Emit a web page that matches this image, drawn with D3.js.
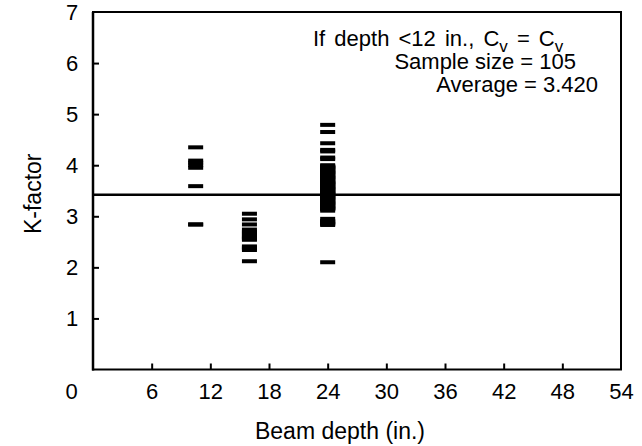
<!DOCTYPE html>
<html>
<head>
<meta charset="utf-8">
<script src="https://cdn.jsdelivr.net/npm/d3@7"></script>
<style>
  html, body { margin: 0; padding: 0; background: #fff; }
  svg { display: block; }
</style>
</head>
<body>
<div id="chart"></div>
<script>
// K-factor vs beam depth — each test shown as a short dash marker

const depthGroups = [10.5, 16, 24];

const kDepth10 = [4.35, 4.09, 4.05, 4.00, 3.95, 3.59, 2.84, 2.84];
const kDepth16 = [3.05, 2.94, 2.84, 2.74, 2.70, 2.68, 2.66, 2.62, 2.60, 2.58,
                  2.56, 2.54, 2.41, 2.39, 2.37, 2.34, 2.12];
const kDepth24 = [4.79, 4.65, 4.43, 4.30, 4.27, 4.15, 4.12,
                  4.00, 3.98, 3.97, 3.96, 3.95, 3.94, 3.92, 3.90, 3.88, 3.87, 3.86, 3.85,
                  3.84, 3.82, 3.80, 3.78, 3.77, 3.76, 3.75, 3.74, 3.72, 3.70, 3.68,
                  3.67, 3.66, 3.65, 3.64, 3.63, 3.62, 3.60, 3.58, 3.57, 3.56, 3.55,
                  3.54, 3.53, 3.52, 3.50, 3.48, 3.47, 3.46, 3.45, 3.44, 3.43, 3.42,
                  3.40, 3.38, 3.37, 3.36, 3.35, 3.34, 3.32, 3.30, 3.28, 3.27, 3.26,
                  3.25, 3.24, 3.22, 3.20, 3.18, 3.17, 3.16, 3.15, 3.14, 3.11,
                  2.95, 2.91, 2.89, 2.87, 2.85, 2.83, 2.10];

const kAverage = 3.42;
const xTicks = [0, 6, 12, 18, 24, 30, 36, 42, 48, 54];
const yTicks = [1, 2, 3, 4, 5, 6, 7];

const W = 642, H = 446;
const FONT = "'Liberation Sans', Arial, sans-serif";

const points = [];
[kDepth10, kDepth16, kDepth24].forEach((vals, i) => {
  vals.forEach(k => points.push({ depth: depthGroups[i], k: k }));
});

const svg = d3.select("#chart").append("svg")
  .attr("width", W).attr("height", H);

const x = d3.scaleLinear().domain([0, 54]).range([93, 621]);
const y = d3.scaleLinear().domain([0, 7]).range([369.5, 12]);

// x axis (ticks point up into the plot)
const xAxis = svg.append("g")
  .attr("transform", `translate(0,${y(0)})`)
  .call(d3.axisBottom(x).tickValues(xTicks).tickFormat(d3.format("d"))
    .tickSize(-6).tickPadding(14));
xAxis.select(".domain").remove();
xAxis.selectAll("line").attr("stroke", "#000").attr("stroke-width", 2);
xAxis.selectAll("text")
  .attr("font-family", FONT).attr("font-size", "22px").attr("fill", "#000");
// Excel put the "0" label left of the axis corner
xAxis.selectAll(".tick").filter(d => d === 0).select("text").attr("dx", -22);
xAxis.selectAll(".tick").filter(d => d === 0 || d === 54).select("line").remove();

const yAxis = svg.append("g")
  .attr("transform", `translate(${x(0)},0)`)
  .call(d3.axisLeft(y).tickValues(yTicks).tickFormat(d3.format("d")).tickSize(-6));
yAxis.select(".domain").remove();
yAxis.selectAll("line").attr("stroke", "#000").attr("stroke-width", 2);
yAxis.selectAll(".tick").filter(d => d === 7).select("line").remove();
yAxis.selectAll("text")
  .attr("font-family", FONT).attr("font-size", "22px").attr("fill", "#000")
  .attr("text-anchor", "middle").attr("x", -21);

// plot frame
svg.append("rect")
  .attr("x", x(0)).attr("y", y(7))
  .attr("width", x(54) - x(0)).attr("height", y(0) - y(7))
  .attr("fill", "none").attr("stroke", "#000").attr("stroke-width", 2);
svg.append("line")
  .attr("x1", x(0)).attr("x2", x(0)).attr("y1", y(7)).attr("y2", y(0) + 1)
  .attr("stroke", "#000").attr("stroke-width", 2.5);

// average line
svg.append("line")
  .attr("x1", x(0)).attr("x2", x(54))
  .attr("y1", y(kAverage)).attr("y2", y(kAverage))
  .attr("stroke", "#000").attr("stroke-width", 2.5);

// dash markers
const dashW = 15, dashH = 4;
svg.append("g").selectAll("rect")
  .data(points)
  .join("rect")
  .attr("x", d => x(d.depth) - dashW / 2)
  .attr("y", d => y(d.k) - dashH / 2)
  .attr("width", dashW).attr("height", dashH)
  .attr("fill", "#000");

// annotation
const note = svg.append("g")
  .attr("font-family", FONT).attr("font-size", "22px").attr("fill", "#000")
  .attr("text-anchor", "end");
const l1 = note.append("text").attr("x", 313).attr("y", 46)
  .attr("text-anchor", "start").attr("word-spacing", "3px");
l1.append("tspan").text("If depth <12 in., C");
l1.append("tspan").attr("font-size", "17px").attr("dy", 6).text("v");
l1.append("tspan").attr("dy", -6).text(" = C");
l1.append("tspan").attr("font-size", "17px").attr("dy", 6).text("v");
note.append("text").attr("x", 576).attr("y", 69).text("Sample size = 105");
note.append("text").attr("x", 598).attr("y", 92).text("Average = 3.420");

// axis titles
svg.append("text")
  .attr("x", 340).attr("y", 439)
  .attr("text-anchor", "middle")
  .attr("font-family", FONT).attr("font-size", "23px").attr("fill", "#000")
  .text("Beam depth (in.)");

svg.append("text")
  .attr("transform", `translate(41,${(y(0) + y(7)) / 2 + 3}) rotate(-90)`)
  .attr("text-anchor", "middle")
  .attr("font-family", FONT).attr("font-size", "23px").attr("fill", "#000")
  .text("K-factor");
</script>
</body>
</html>
